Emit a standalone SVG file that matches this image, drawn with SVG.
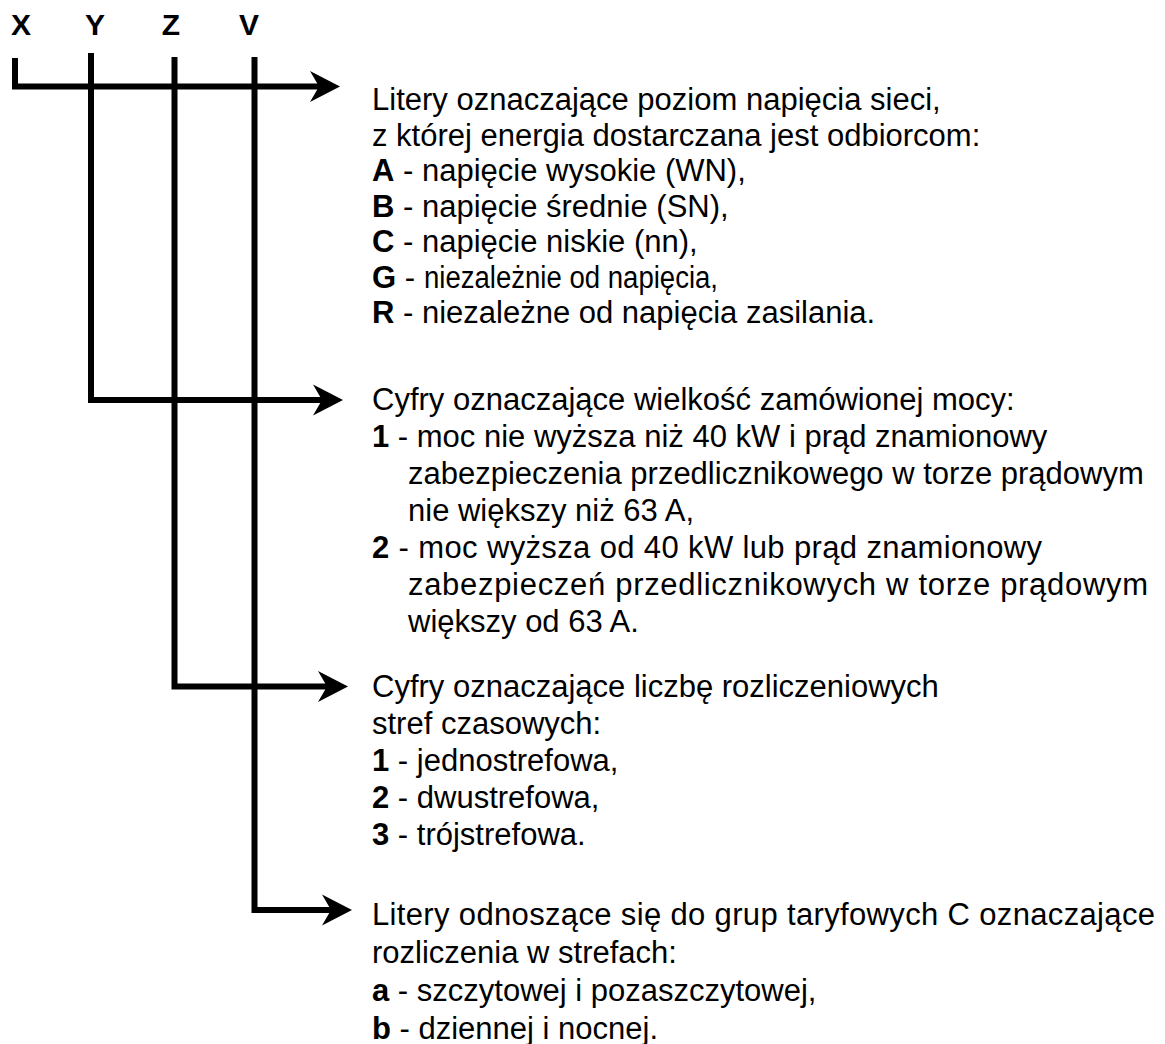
<svg xmlns="http://www.w3.org/2000/svg" width="1165" height="1044" viewBox="0 0 1165 1044">
<style>
text{font-family:"Liberation Sans",Arial,sans-serif;font-size:31px;fill:#000}
.lbl{font-weight:bold;font-size:30px;text-anchor:middle}
.b{font-weight:bold}
.ln{fill:none;stroke:#000;stroke-width:6;stroke-linejoin:miter}
.ah{fill:#000;stroke:none}
</style>
<rect width="1165" height="1044" fill="#fff"/>
<g id="labels">
<g id="node-X"><text class="lbl" x="21" y="35">X</text></g>
<g id="node-Y"><text class="lbl" x="95" y="35">Y</text></g>
<g id="node-Z"><text class="lbl" x="171" y="35">Z</text></g>
<g id="node-V"><text class="lbl" x="249" y="35">V</text></g>
</g>
<g id="connectors">
<path class="ln" d="M15,58 V86.5 H322"/>
<path class="ah" d="M340,86.5 L310,71 L319,86.5 L310,102 Z"/>
<path class="ln" d="M91,53 V400 H325"/>
<path class="ah" d="M343,400 L313,384.5 L322,400 L313,415.5 Z"/>
<path class="ln" d="M174.5,57 V686.5 H330"/>
<path class="ah" d="M348,686.5 L318,671 L327,686.5 L318,702 Z"/>
<path class="ln" d="M254.5,57 V910 H334"/>
<path class="ah" d="M352,910 L322,894.5 L331,910 L322,925.5 Z"/>
</g>
<g id="node-X-desc">
<text x="372" y="110">Litery oznaczające poziom napięcia sieci,</text>
<text x="372" y="145.5">z której energia dostarczana jest odbiorcom:</text>
<text x="372" y="181"><tspan class="b">A</tspan> - napięcie wysokie (WN),</text>
<text x="372" y="216.5"><tspan class="b">B</tspan> - napięcie średnie (SN),</text>
<text x="372" y="252"><tspan class="b">C</tspan> - napięcie niskie (nn),</text>
<text x="372" y="287.5"><tspan class="b">G</tspan> - </text>
<text x="424" y="287.5" textLength="294" lengthAdjust="spacingAndGlyphs">niezależnie od napięcia,</text>
<text x="372" y="323"><tspan class="b">R</tspan> - niezależne od napięcia zasilania.</text>
</g>
<g id="node-Y-desc">
<text x="372" y="410">Cyfry oznaczające wielkość zamówionej mocy:</text>
<text x="372" y="447"><tspan class="b">1</tspan> - moc nie wyższa niż 40 kW i prąd znamionowy</text>
<text x="408" y="484">zabezpieczenia przedlicznikowego w torze prądowym</text>
<text x="408" y="521">nie większy niż 63 A,</text>
<text x="372" y="558" textLength="670" lengthAdjust="spacing"><tspan class="b">2</tspan> - moc wyższa od 40 kW lub prąd znamionowy</text>
<text x="408" y="595" textLength="740" lengthAdjust="spacing">zabezpieczeń przedlicznikowych w torze prądowym</text>
<text x="408" y="632">większy od 63 A.</text>
</g>
<g id="node-Z-desc">
<text x="372" y="697">Cyfry oznaczające liczbę rozliczeniowych</text>
<text x="372" y="734">stref czasowych:</text>
<text x="372" y="771"><tspan class="b">1</tspan> - jednostrefowa,</text>
<text x="372" y="808"><tspan class="b">2</tspan> - dwustrefowa,</text>
<text x="372" y="845"><tspan class="b">3</tspan> - trójstrefowa.</text>
</g>
<g id="node-V-desc">
<text x="372" y="925" textLength="783" lengthAdjust="spacing">Litery odnoszące się do grup taryfowych C oznaczające</text>
<text x="372" y="963">rozliczenia w strefach:</text>
<text x="372" y="1001"><tspan class="b">a</tspan> - szczytowej i pozaszczytowej,</text>
<text x="372" y="1039"><tspan class="b">b</tspan> - dziennej i nocnej.</text>
</g>
</svg>
